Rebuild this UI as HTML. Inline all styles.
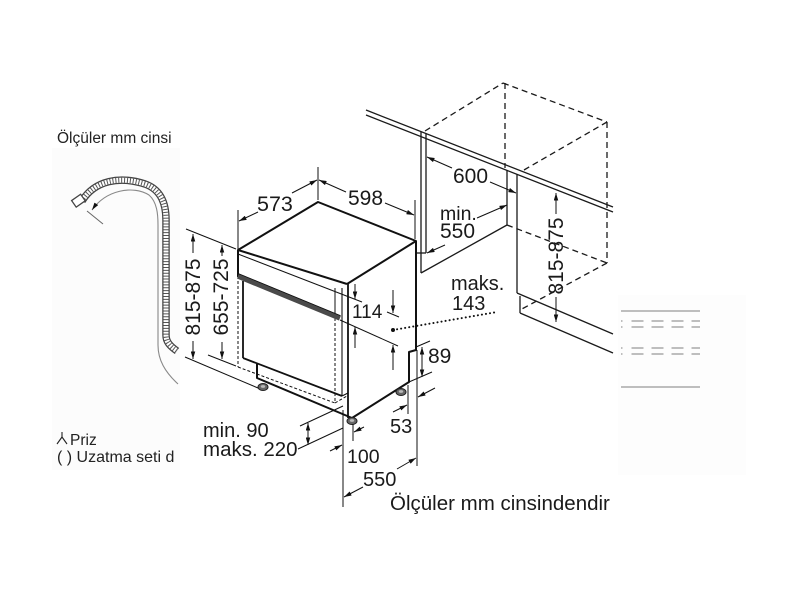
<!DOCTYPE html>
<html><head><meta charset="utf-8">
<style>html,body{margin:0;padding:0;background:#fff;}svg{display:block}</style>
</head>
<body>
<svg width="800" height="600" viewBox="0 0 800 600" xmlns="http://www.w3.org/2000/svg">
<defs>
<marker id="a" viewBox="0 0 10 6" refX="10" refY="3" markerWidth="8" markerHeight="4.5" orient="auto" markerUnits="userSpaceOnUse"><path d="M0,0L10,3L0,6z" fill="#111"/></marker>
<marker id="b" viewBox="0 0 10 6" refX="10" refY="3" markerWidth="8" markerHeight="4.5" orient="auto-start-reverse" markerUnits="userSpaceOnUse"><path d="M0,0L10,3L0,6z" fill="#111"/></marker>
</defs>
<rect width="800" height="600" fill="#fff"/>
<rect x="52" y="148" width="128" height="322" fill="#fcfcfc"/>
<rect x="618" y="295" width="128" height="180" fill="#fdfdfd"/>

<!-- ===== Left panel texts ===== -->
<g font-family="Liberation Sans, Arial, sans-serif" fill="#222">
<text x="57" y="143" font-size="15.5">Ölçüler mm cinsi</text>
<text x="70" y="445" font-size="15.5">Priz</text>
<text x="57" y="462" font-size="16">( ) Uzatma seti d</text>
</g>
<g stroke="#222" stroke-width="1.1" fill="none">
<line x1="62" y1="432" x2="62" y2="437"/>
<line x1="62" y1="437" x2="57" y2="444"/>
<line x1="62" y1="437" x2="67" y2="444"/>
</g>

<!-- ===== Hose ===== -->
<g fill="none" stroke-linecap="butt">
<path d="M82,201 C95,180 120,176 145,184 C162,190 166,205 166,220 L166,335 C166,342 170,346 177,351" stroke="#444" stroke-width="7.5"/>
<path d="M82,201 C95,180 120,176 145,184 C162,190 166,205 166,220 L166,335 C166,342 170,346 177,351" stroke="#fff" stroke-width="5"/>
<path d="M82,201 C95,180 120,176 145,184 C162,190 166,205 166,220 L166,335 C166,342 170,346 177,351" stroke="#555" stroke-width="5" stroke-dasharray="1 1.9"/>
</g>
<rect x="73" y="197" width="11" height="8" fill="#fff" stroke="#444" stroke-width="1.3" transform="rotate(-35 78 201)"/>
<path d="M92,210 C106,190 133,185 149,195 C157,202 158,214 158,225 L158,345 C158,360 165,372 178,384" fill="none" stroke="#888" stroke-width="1.1" marker-start="url(#b)"/>
<line x1="87" y1="211" x2="103" y2="224" stroke="#666" stroke-width="1"/>

<!-- ===== Right gray fragments ===== -->
<g stroke="#aaa" stroke-width="1.5" fill="none">
<line x1="621" y1="311" x2="700" y2="311"/>
<line x1="621" y1="387" x2="700" y2="387"/>
<line x1="621" y1="321" x2="700" y2="321" stroke-dasharray="1.5 9 12 8 12 8 12 8 12"/>
<line x1="621" y1="327" x2="700" y2="327" stroke-dasharray="1.5 9 12 8 12 8 12 8 12"/>
<line x1="621" y1="348" x2="700" y2="348" stroke-dasharray="1.5 9 12 8 12 8 12 8 12"/>
<line x1="621" y1="354" x2="700" y2="354" stroke-dasharray="1.5 9 12 8 12 8 12 8 12"/>
</g>

<!-- ===== Cabinets ===== -->
<g stroke="#1a1a1a" stroke-width="1.3" fill="none">
<line x1="366" y1="110" x2="613" y2="207"/>
<line x1="366" y1="115" x2="613" y2="212"/>
<line x1="421" y1="132" x2="421" y2="273"/>
<line x1="426" y1="134" x2="426" y2="253"/>
<line x1="416" y1="253" x2="426" y2="253"/>
<line x1="421" y1="273" x2="507" y2="225"/>
<line x1="507" y1="170" x2="507" y2="225"/>
<line x1="517" y1="174" x2="517" y2="293"/>
<line x1="517" y1="293" x2="613" y2="334"/>
<line x1="520" y1="296" x2="520" y2="313"/>
<line x1="520" y1="313" x2="613" y2="353"/>
</g>
<g stroke="#1a1a1a" stroke-width="1.3" fill="none" stroke-dasharray="6 4">
<line x1="425" y1="131" x2="503" y2="83"/>
<line x1="503" y1="83" x2="607" y2="122"/>
<line x1="607" y1="122" x2="607" y2="263"/>
<line x1="505" y1="83" x2="505" y2="168"/>
<line x1="524" y1="170" x2="607" y2="122"/>
<line x1="507" y1="225" x2="607" y2="263"/>
<line x1="607" y1="263" x2="520" y2="310"/>
</g>

<!-- ===== Dishwasher ===== -->
<g stroke="#111" fill="none" stroke-linejoin="round">
<polyline points="238,277 238,250 318,202 416,241 416,350 409,352 409,382 352,418 257,378 257,364" stroke-width="2"/>
<line x1="238" y1="250" x2="347" y2="284" stroke-width="2"/>
<line x1="347" y1="284" x2="416" y2="241" stroke-width="2"/>
<line x1="348" y1="284" x2="348" y2="418" stroke-width="1.8"/>
<line x1="243" y1="281" x2="243" y2="358" stroke-width="1.8"/>
<line x1="243" y1="358" x2="342" y2="396" stroke-width="1.8"/>
<line x1="342" y1="288" x2="342" y2="396" stroke-width="1.1"/>
<line x1="342" y1="396" x2="348" y2="393" stroke-width="1.1"/>
<line x1="238" y1="254" x2="362" y2="302" stroke-width="1"/>
<line x1="335" y1="288" x2="335" y2="318" stroke-width="1"/>
</g>
<g stroke="#111" fill="none" stroke-width="1" stroke-dasharray="3 2">
<line x1="238" y1="281" x2="238" y2="367"/>
<line x1="238" y1="367" x2="335" y2="403"/>
<line x1="335" y1="318" x2="335" y2="403"/>
<line x1="335" y1="403" x2="347" y2="396"/>
</g>
<!-- handle -->
<line x1="238" y1="276" x2="340" y2="318" stroke="#4a4a4a" stroke-width="5.5"/>
<line x1="238" y1="273.5" x2="340" y2="315.5" stroke="#111" stroke-width="0.8"/>
<!-- feet -->
<g fill="#666" stroke="#222" stroke-width="1">
<ellipse cx="263" cy="387" rx="5" ry="3.5"/>
<ellipse cx="352" cy="421" rx="5" ry="3.5"/>
<ellipse cx="401" cy="392" rx="5" ry="3.5"/>
</g>
<g fill="#bbb">
<ellipse cx="263" cy="386.5" rx="2.2" ry="1.4"/>
<ellipse cx="352" cy="420.5" rx="2.2" ry="1.4"/>
<ellipse cx="401" cy="391.5" rx="2.2" ry="1.4"/>
</g>

<!-- dotted line -->
<line x1="393" y1="330" x2="497" y2="312" stroke="#111" stroke-width="2" stroke-linecap="round" stroke-dasharray="0.1 4"/>
<circle cx="393" cy="330" r="2" fill="#111"/>

<!-- ===== Dimension & extension lines ===== -->
<g stroke="#111" stroke-width="1" fill="none">
<line x1="318" y1="167" x2="318" y2="200"/>
<line x1="238" y1="210" x2="238" y2="249"/>
<line x1="415" y1="200" x2="415" y2="239"/>
<line x1="186" y1="229" x2="236" y2="249"/>
<line x1="185" y1="357" x2="258" y2="388"/>
<line x1="208" y1="355" x2="236" y2="366"/>
<line x1="387" y1="312" x2="399" y2="317"/>
<line x1="340" y1="320" x2="398" y2="346"/>
<line x1="416" y1="347" x2="430" y2="341"/>
<line x1="409" y1="382" x2="432" y2="372"/>
<line x1="408" y1="385" x2="408" y2="414"/>
<line x1="417" y1="350" x2="417" y2="466"/>
<line x1="343" y1="410" x2="343" y2="507"/>
<line x1="353" y1="424" x2="353" y2="441"/>
<line x1="300" y1="426" x2="343" y2="406"/>
<line x1="298" y1="449" x2="343" y2="428"/>

<line x1="292" y1="193" x2="317" y2="180" marker-end="url(#a)"/>
<line x1="258" y1="212" x2="239" y2="221" marker-end="url(#a)"/>
<line x1="346" y1="192" x2="319" y2="180" marker-end="url(#a)"/>
<line x1="385" y1="203" x2="414" y2="215" marker-end="url(#a)"/>
<line x1="452" y1="168" x2="427" y2="157" marker-end="url(#a)"/>
<line x1="490" y1="182" x2="516" y2="193" marker-end="url(#a)"/>
<line x1="477" y1="218" x2="507" y2="205" marker-end="url(#a)"/>
<line x1="445" y1="245" x2="427" y2="253" marker-end="url(#a)"/>
<line x1="556" y1="214" x2="556" y2="193" marker-end="url(#a)"/>
<line x1="556" y1="297" x2="556" y2="322" marker-end="url(#a)"/>
<line x1="193" y1="253" x2="193" y2="234" marker-end="url(#a)"/>
<line x1="193" y1="341" x2="193" y2="359" marker-end="url(#a)"/>
<line x1="222" y1="256" x2="222" y2="245" marker-end="url(#a)"/>
<line x1="222" y1="342" x2="222" y2="359" marker-end="url(#a)"/>
<line x1="355" y1="284" x2="355" y2="299" marker-end="url(#a)"/>
<line x1="393" y1="290" x2="393" y2="313" marker-end="url(#a)"/>
<line x1="355" y1="348" x2="355" y2="327" marker-end="url(#a)"/>
<line x1="393" y1="370" x2="393" y2="345" marker-end="url(#a)"/>
<line x1="422" y1="362" x2="422" y2="347" marker-end="url(#a)"/>
<line x1="422" y1="362" x2="422" y2="377" marker-end="url(#a)"/>
<line x1="393" y1="412" x2="407" y2="405" marker-end="url(#a)"/>
<line x1="435" y1="388" x2="418" y2="397" marker-end="url(#a)"/>
<line x1="364" y1="427" x2="354" y2="432" marker-end="url(#a)"/>
<line x1="330" y1="451" x2="342" y2="445" marker-end="url(#a)"/>
<line x1="397" y1="469" x2="416" y2="458" marker-end="url(#a)"/>
<line x1="363" y1="487" x2="344" y2="497" marker-end="url(#a)"/>
<line x1="308" y1="433" x2="308" y2="423" marker-end="url(#a)"/>
<line x1="308" y1="433" x2="308" y2="445" marker-end="url(#a)"/>
</g>

<!-- ===== Dimension texts ===== -->
<g font-family="Liberation Sans, Arial, sans-serif" fill="#1a1a1a">
<text x="257" y="211" font-size="21.5">573</text>
<text x="348" y="205" font-size="21">598</text>
<text x="453" y="183" font-size="21">600</text>
<text x="440" y="220" font-size="19.5">min.</text>
<text x="440" y="238" font-size="21">550</text>
<text x="451" y="290" font-size="20">maks.</text>
<text x="452" y="310" font-size="20">143</text>
<text x="352" y="318" font-size="19">114</text>
<text x="428" y="363" font-size="21">89</text>
<text x="390" y="433" font-size="20">53</text>
<text x="347" y="463" font-size="19.5">100</text>
<text x="363" y="486" font-size="20">550</text>
<text x="203" y="437" font-size="20">min. 90</text>
<text x="203" y="456" font-size="20.5">maks. 220</text>
<text x="390" y="510" font-size="20.5">Ölçüler mm cinsindendir</text>
<text transform="translate(200,297) rotate(-90)" text-anchor="middle" font-size="21">815-875</text>
<text transform="translate(228,297) rotate(-90)" text-anchor="middle" font-size="21">655-725</text>
<text transform="translate(563,256) rotate(-90)" text-anchor="middle" font-size="21">815-875</text>
</g>
</svg>
</body>
</html>
